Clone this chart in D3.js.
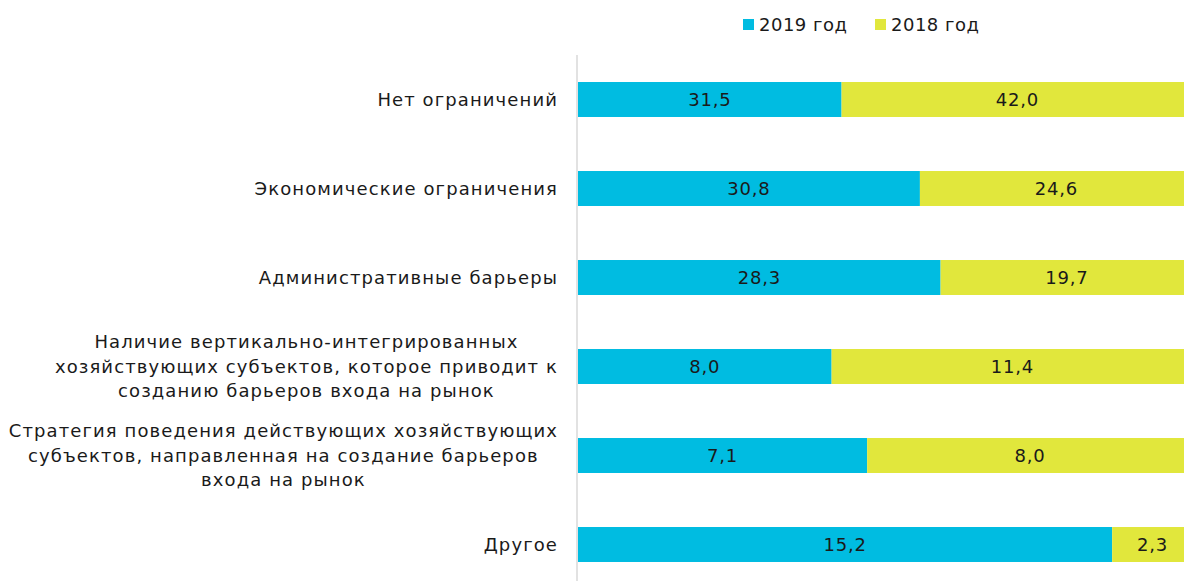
<!DOCTYPE html>
<html><head><meta charset="utf-8">
<script src="https://cdn.jsdelivr.net/npm/d3@7"></script>
<style>
html,body{margin:0;padding:0;background:#fff;}
svg{display:block;font-family:"DejaVu Sans",sans-serif;}
</style></head>
<body><svg id="chart" width="1184" height="581"></svg>
<script>
const categories = [
  ["Нет ограничений"],
  ["Экономические ограничения"],
  ["Административные барьеры"],
  ["Наличие вертикально-интегрированных","хозяйствующих субъектов, которое приводит к","созданию барьеров входа на рынок"],
  ["Стратегия поведения действующих хозяйствующих","субъектов, направленная на создание барьеров","входа на рынок"],
  ["Другое"]
];
const values2019 = [31.5, 30.8, 28.3, 8.0, 7.1, 15.2];
const values2018 = [42.0, 24.6, 19.7, 11.4, 8.0, 2.3];
const seriesNames = ["2019 год", "2018 год"];
const colors = ["#00BCE1", "#E1E73C"];

const svg = d3.select("#chart");
const fmt = v => d3.format(".1f")(v).replace(".", ",");

const y = d3.scaleBand().domain(d3.range(categories.length))
  .range([55, 589]).paddingInner(0.607).paddingOuter(0.3035);
const x = d3.scaleLinear().domain([0, 1]).range([578, 1193]);

const rows = categories.map((c, i) => {
  const tot = values2019[i] + values2018[i];
  return {i, lines: c, segs: [
    {s:0, v: values2019[i], x0: 0, x1: values2019[i]/tot},
    {s:1, v: values2018[i], x0: values2019[i]/tot, x1: 1}
  ]};
});

// bars
const g = svg.append("g");
rows.forEach(r => {
  r.segs.forEach(sg => {
    g.append("rect")
      .attr("x", x(sg.x0)).attr("y", y(r.i))
      .attr("width", x(sg.x1) - x(sg.x0)).attr("height", y.bandwidth())
      .attr("fill", colors[sg.s]);
    g.append("text")
      .attr("x", (x(sg.x0) + x(sg.x1)) / 2)
      .attr("y", y(r.i) + y.bandwidth()/2)
      .attr("dy", "0.35em").attr("text-anchor", "middle")
      .attr("font-size", 18).attr("letter-spacing", 0.8).attr("fill", "#1a1a1a")
      .text(fmt(sg.v));
  });
});

// axis line
svg.append("line").attr("x1", 577).attr("x2", 577).attr("y1", 55).attr("y2", 581)
  .attr("stroke", "#d9d9d9").attr("stroke-width", 1.5);

// category labels
const lineH = 24.5;
rows.forEach(r => {
  const cy = y(r.i) + y.bandwidth()/2;
  const n = r.lines.length;
  const tg = svg.append("g");
  const texts = r.lines.map((ln, k) => tg.append("text")
    .attr("y", cy + (k - (n-1)/2) * lineH).attr("dy", "0.35em")
    .attr("text-anchor", "middle").attr("font-size", 18).attr("letter-spacing", 1.1)
    .attr("fill", "#1a1a1a")
    .text(ln));
  const maxW = d3.max(texts, t => t.node().getComputedTextLength());
  texts.forEach(t => t.attr("x", 558 - maxW/2));
});

// legend
const leg = svg.append("g");
const legX = [743, 875];
seriesNames.forEach((nm, i) => {
  leg.append("rect").attr("x", legX[i]).attr("y", 19).attr("width", 11).attr("height", 11).attr("fill", colors[i]);
  leg.append("text").attr("x", legX[i] + 16).attr("y", 24.5).attr("dy", "0.35em")
    .attr("font-size", 18).attr("letter-spacing", 0.5).attr("fill", "#1a1a1a").text(nm);
});
</script></body></html>
